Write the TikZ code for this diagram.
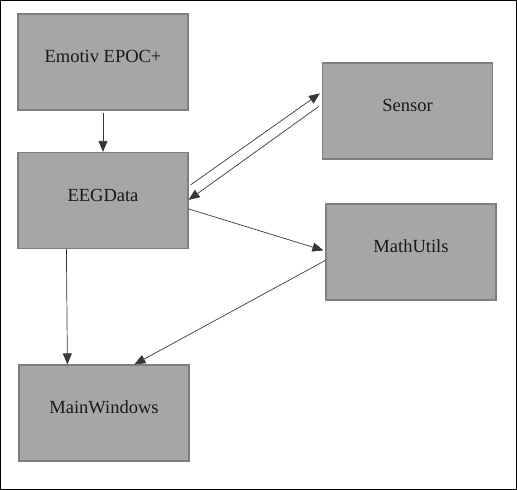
\documentclass[tikz,border=0pt]{standalone}
\usepackage{fontspec}
\setmainfont{Liberation Serif}
\usetikzlibrary{arrows.meta}
\definecolor{boxfill}{HTML}{A6A6A6}
\definecolor{boxline}{HTML}{7F7F7F}
\definecolor{arrline}{HTML}{383838}
\begin{document}
\begin{tikzpicture}[x=1pt,y=-1pt,
  box/.style={draw=boxline, line width=1.2pt, fill=boxfill, rectangle,
    minimum width=170pt, minimum height=96pt, inner sep=0pt,
    text height=12pt, text depth=11pt, text=black!90,
    font=\fontsize{18.5}{22}\selectfont},
  conn/.style={draw=arrline, line width=0.7pt,
    -{Triangle[length=11pt,width=9pt]}}]
\useasboundingbox (0,0) rectangle (517,490);
\draw[line width=1.3pt] (0.6,0.6) rectangle (516.4,489.4);
\node[box] (emotiv) at (103,62) {Emotiv EPOC+};
\node[box] (eeg) at (103,200.5) {EEGData};
\node[box] (main) at (104,413) {MainWindows};
\node[box] (sensor) at (407.5,111) {Sensor};
\node[box] (math) at (411,252) {MathUtils};
% connectors
\draw[conn] ([yshift=-2pt]emotiv.south) -- (eeg.north);
\draw[conn] ([xshift=2pt,yshift=-33pt]eeg.north east) -- ([xshift=-2pt,yshift=-31pt]sensor.north west);
\draw[conn] ([xshift=-3pt,yshift=-44pt]sensor.north west) -- ([yshift=-48pt]eeg.north east);
\draw[conn] ([yshift=-57pt]eeg.north east) -- ([xshift=-2pt,yshift=-47pt]math.north west);
\draw[conn] ([yshift=-57pt]math.north west) -- ([xshift=116pt]main.north west);
\draw[conn] ([xshift=49pt]eeg.south west) -- ([xshift=49pt]main.north west);
\end{tikzpicture}
\end{document}
